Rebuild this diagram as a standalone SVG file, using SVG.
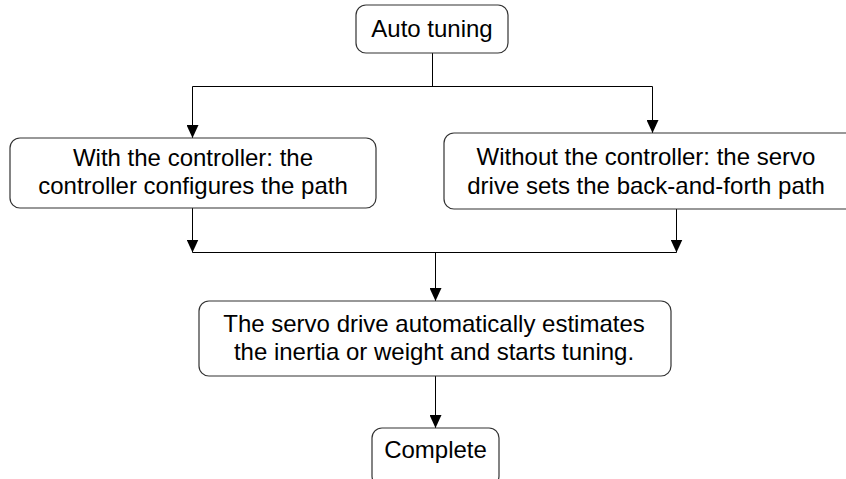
<svg xmlns="http://www.w3.org/2000/svg" width="846" height="479" viewBox="0 0 846 479">
<defs>
<style>
.box{fill:#fff;stroke:#333;stroke-width:1.2}
.t{font-family:"Liberation Sans",Arial,sans-serif;font-size:24px;fill:#000;text-anchor:middle}
.c{fill:none;stroke:#000;stroke-width:1}
</style>
<marker id="ah" markerUnits="userSpaceOnUse" markerWidth="13" markerHeight="12" refX="13" refY="6" orient="auto" viewBox="0 0 13 12">
<path d="M0,0 L13,6 L0,12 z" fill="#000"/>
</marker>
</defs>
<rect width="846" height="479" fill="#fff"/>
<g id="connectors">
<path class="c" d="M432.5,53 V86.5"/>
<path class="c" d="M192.5,86.5 H652.5"/>
<line class="c" x1="192.5" y1="86.5" x2="192.5" y2="138" marker-end="url(#ah)"/>
<line class="c" x1="652.5" y1="86.5" x2="652.5" y2="133" marker-end="url(#ah)"/>
<line class="c" x1="192.5" y1="208" x2="192.5" y2="252.5" marker-end="url(#ah)"/>
<line class="c" x1="676.5" y1="209" x2="676.5" y2="252.5" marker-end="url(#ah)"/>
<path class="c" d="M192.5,252.5 H676.5"/>
<line class="c" x1="435.5" y1="252.5" x2="435.5" y2="301" marker-end="url(#ah)"/>
<line class="c" x1="435.5" y1="376" x2="435.5" y2="428" marker-end="url(#ah)"/>
</g>
<g id="auto-tuning">
<rect class="box" x="356" y="5" width="152" height="48" rx="10"/>
<text class="t" x="432" y="37">Auto tuning</text>
</g>
<g id="with-controller">
<rect class="box" x="10" y="138" width="366" height="70" rx="10"/>
<text class="t" x="193" y="166">With the controller: the</text>
<text class="t" x="193" y="194">controller configures the path</text>
</g>
<g id="without-controller">
<rect class="box" x="444" y="133" width="416" height="76" rx="10"/>
<text class="t" x="646" y="165">Without the controller: the servo</text>
<text class="t" x="646" y="194">drive sets the back-and-forth path</text>
</g>
<g id="estimate">
<rect class="box" x="199" y="301" width="472" height="75" rx="10"/>
<text class="t" x="434" y="332">The servo drive automatically estimates</text>
<text class="t" x="434" y="360">the inertia or weight and starts tuning.</text>
</g>
<g id="complete">
<rect class="box" x="372" y="428" width="127" height="58" rx="10"/>
<text class="t" x="435.5" y="458">Complete</text>
</g>
</svg>
